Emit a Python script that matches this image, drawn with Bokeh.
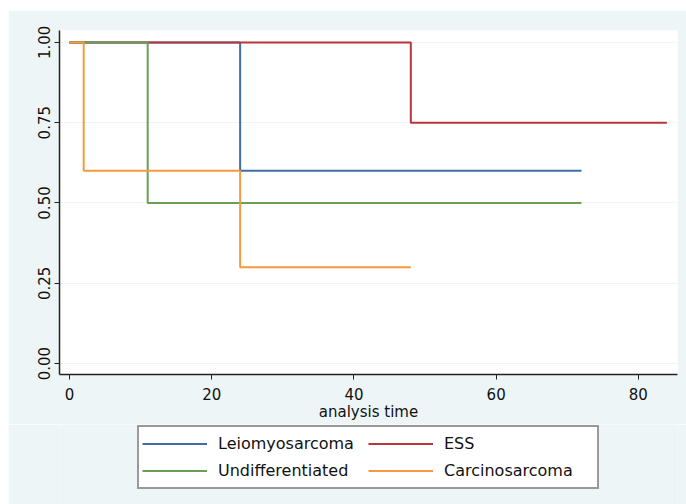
from bokeh.plotting import figure
from bokeh.layouts import column
from bokeh.models import Legend, LegendItem, FixedTicker, NumeralTickFormatter
from bokeh.embed import file_html
from bokeh.resources import INLINE

# Kaplan-Meier survival estimates (step functions)
leio_time = [0, 24, 72]
leio_surv = [1.0, 0.6, 0.6]
ess_time = [0, 48, 84]
ess_surv = [1.0, 0.75, 0.75]
undiff_time = [0, 11, 72]
undiff_surv = [1.0, 0.5, 0.5]
carc_time = [0, 2, 24, 48]
carc_surv = [1.0, 0.6, 0.3, 0.3]

group_names = ["Leiomyosarcoma", "ESS", "Undifferentiated", "Carcinosarcoma"]
group_colors = ["#3f6ea8", "#b5363d", "#6a9e55", "#f7993f"]
x_ticks = [0, 20, 40, 60, 80]
y_ticks = [0.0, 0.25, 0.5, 0.75, 1.0]

FONT = "DejaVu Sans"
BG = "#eef5f7"
NAN = float("nan")

p = figure(width=678, height=414, output_backend="svg", toolbar_location=None,
           x_range=(-1.4, 85.5), y_range=(-0.034, 1.037),
           min_border_left=51, min_border_right=9, min_border_top=20, min_border_bottom=50,
           margin=(10, 0, 0, 8))
p.background_fill_color = "white"
p.border_fill_color = BG
p.outline_line_color = None

r_leio = p.step(leio_time, leio_surv, mode="after", line_color=group_colors[0], line_width=2)
r_ess = p.step(ess_time, ess_surv, mode="after", line_color=group_colors[1], line_width=2)
r_undiff = p.step(undiff_time, undiff_surv, mode="after", line_color=group_colors[2], line_width=2)
r_carc = p.step(carc_time, carc_surv, mode="after", line_color=group_colors[3], line_width=2)

p.xgrid.visible = False
p.ygrid.ticker = FixedTicker(ticks=y_ticks)
p.ygrid.grid_line_color = "#eef3f3"
p.ygrid.grid_line_width = 1

for ax in (p.xaxis[0], p.yaxis[0]):
    ax.axis_line_color = "#222222"
    ax.axis_line_width = 1.5
    ax.major_tick_line_color = "#222222"
    ax.major_tick_out = 5
    ax.major_tick_in = 0
    ax.minor_tick_line_color = None
    ax.major_label_text_font = FONT
    ax.major_label_text_font_size = "15px"
    ax.major_label_text_color = "#111111"

p.xaxis.ticker = FixedTicker(ticks=x_ticks)
p.yaxis.ticker = FixedTicker(ticks=y_ticks)
p.yaxis.formatter = NumeralTickFormatter(format="0.00")
p.yaxis.major_label_orientation = "vertical"
p.yaxis.major_label_standoff = 4
p.xaxis.major_label_standoff = 8
p.xaxis.axis_label = "analysis time"
p.xaxis.axis_label_text_font = FONT
p.xaxis.axis_label_text_font_size = "15px"
p.xaxis.axis_label_text_font_style = "normal"
p.xaxis.axis_label_text_color = "#111111"
p.xaxis.axis_label_standoff = 0

# Legend panel below the plot (legend proxies carry no drawable data)
lg = figure(width=678, height=80, output_backend="svg", toolbar_location=None,
            x_range=(0, 1), y_range=(0, 1),
            min_border_left=0, min_border_right=0, min_border_top=0, min_border_bottom=0,
            margin=(0, 0, 0, 8))
lg.axis.visible = False
lg.grid.visible = False
lg.outline_line_color = None
lg.background_fill_color = BG
lg.border_fill_color = BG
l_leio = lg.line([NAN], [NAN], line_color=group_colors[0], line_width=2)
l_ess = lg.line([NAN], [NAN], line_color=group_colors[1], line_width=2)
l_undiff = lg.line([NAN], [NAN], line_color=group_colors[2], line_width=2)
l_carc = lg.line([NAN], [NAN], line_color=group_colors[3], line_width=2)

legend = Legend(items=[
    LegendItem(label=group_names[0], renderers=[l_leio]),
    LegendItem(label=group_names[2], renderers=[l_undiff]),
    LegendItem(label=group_names[1], renderers=[l_ess]),
    LegendItem(label=group_names[3], renderers=[l_carc]),
], ncols=2, location=(78, 15))
legend.label_text_font = FONT
legend.label_text_font_size = "16px"
legend.label_text_color = "#111111"
legend.glyph_width = 65
legend.glyph_height = 27
legend.label_height = 27
legend.label_width = 150
legend.label_standoff = 11
legend.spacing = 0
legend.padding = 3
legend.margin = 0
legend.border_line_color = "#333333"
legend.border_line_width = 2
legend.background_fill_color = "white"
legend.background_fill_alpha = 1.0
lg.add_layout(legend, "center")

layout = column(p, lg, spacing=0)
open("out.html", "w").write(file_html(layout, INLINE))
